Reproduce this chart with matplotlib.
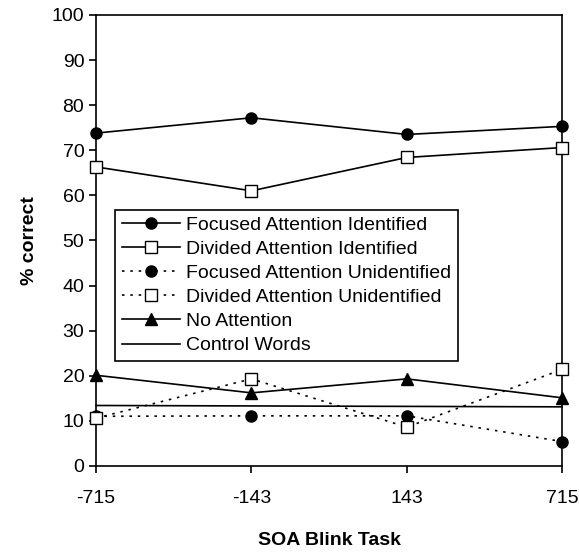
import matplotlib
matplotlib.use("Agg")
import matplotlib.pyplot as plt

# Data
soa_labels = ["-715", "-143", "143", "715"]
focused_identified = [73.8, 77.2, 73.5, 75.3]
divided_identified = [66.3, 61.0, 68.4, 70.6]
focused_unidentified = [11.0, 11.1, 11.1, 5.4]
divided_unidentified = [10.6, 19.3, 8.6, 21.4]
no_attention = [20.1, 16.2, 19.3, 15.1]
control_words = [13.4, 13.3, 13.2, 13.1]

plt.rcParams['font.family'] = ['Liberation Sans', 'DejaVu Sans']

fig = plt.figure(figsize=(5.79, 5.54), dpi=100)
ax = fig.add_axes([0.166, 0.159, 0.805, 0.814])

x = list(range(len(soa_labels)))
dot = (0, (1.5, 3.5))
ms = 8
fs = 14

ax.plot(x, focused_identified, color='black', lw=1.2, marker='o', ms=ms,
        label="Focused Attention Identified", clip_on=False, zorder=3)
ax.plot(x, divided_identified, color='black', lw=1.2, marker='s', ms=ms,
        mfc='white', mec='black', label="Divided Attention Identified", clip_on=False, zorder=3)
ax.plot(x, focused_unidentified, color='black', lw=1.2, ls=dot, marker='o', ms=ms,
        label="Focused Attention Unidentified", clip_on=False, zorder=3)
ax.plot(x, divided_unidentified, color='black', lw=1.2, ls=dot, marker='s', ms=ms,
        mfc='white', mec='black', label="Divided Attention Unidentified", clip_on=False, zorder=3)
ax.plot(x, no_attention, color='black', lw=1.2, marker='^', ms=ms,
        label="No Attention", clip_on=False, zorder=3)
ax.plot(x, control_words, color='black', lw=1.2,
        label="Control Words", clip_on=False, zorder=2)

ax.set_xlim(0, 3)
ax.set_ylim(0, 100)
ax.set_yticks(range(0, 101, 10))
ax.set_xticks(x)
ax.set_xticklabels(soa_labels)
ax.tick_params(axis='both', labelsize=fs, direction='out', length=5, width=1.2)
ax.tick_params(axis='x', pad=12)
for s in ax.spines.values():
    s.set_linewidth(1.2)

ax.set_ylabel("% correct", fontsize=fs, fontweight='bold', labelpad=10)
ax.set_xlabel("SOA Blink Task", fontsize=fs, fontweight='bold', labelpad=18)

leg = ax.legend(loc='upper left', bbox_to_anchor=(0.04, 0.568), fontsize=fs,
                frameon=True, fancybox=False, edgecolor='black', framealpha=1,
                handlelength=3.0, handletextpad=0.3, labelspacing=0.33,
                borderpad=0.35, borderaxespad=0)
leg.get_frame().set_linewidth(1.2)

fig.savefig("out.png", dpi=100)
